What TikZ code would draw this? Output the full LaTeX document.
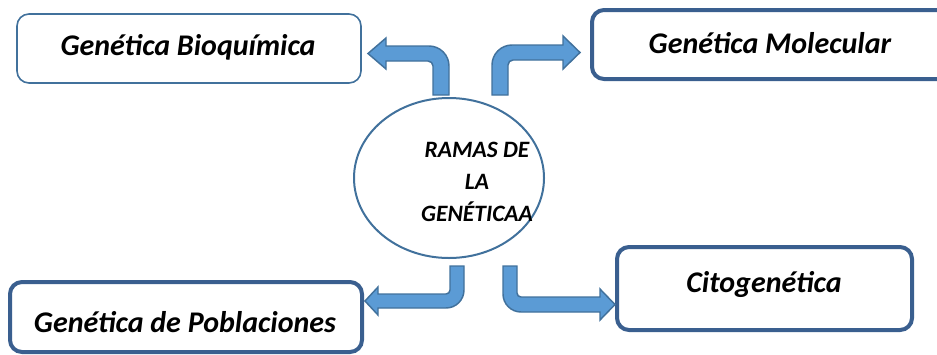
\documentclass[tikz,border=0pt]{standalone}
\usepackage{fontspec}
\setmainfont{Carlito}
\usetikzlibrary{shapes.geometric}
\definecolor{boxline}{HTML}{3A5F8F}
\definecolor{thinline}{HTML}{41719C}
\definecolor{arrowfill}{HTML}{5B9BD5}
\begin{document}
\begin{tikzpicture}[x=0.75pt,y=-0.75pt,
  thickbox/.style={draw=boxline,line width=3pt,rounded corners=9pt,fill=white,inner sep=0pt},
  thinbox/.style={draw=thinline,line width=1.2pt,rounded corners=9pt,fill=white,inner sep=0pt},
  lab/.style={font=\fontsize{22.5pt}{27pt}\selectfont\bfseries\itshape,inner sep=0pt,anchor=base},
  ctext/.style={font=\fontsize{17.6pt}{24pt}\selectfont\bfseries\itshape,inner sep=0pt,align=center},
  barrow/.style={fill=arrowfill,draw=thinline,line width=1.1pt,line join=miter}]
\useasboundingbox (0,0) rectangle (937,354);
\clip (0,0) rectangle (937,354);
% boxes
\node[thinbox,minimum width=258pt,minimum height=51.75pt] (b1) at (189,48.5) {};
\node[thickbox,minimum width=285pt,minimum height=51.75pt] (b2) at (782,44.5) {};
\node[thickbox,minimum width=264pt,minimum height=52.5pt] (b3) at (186,317) {};
\node[thickbox,minimum width=221.25pt,minimum height=62.25pt] (b4) at (764.5,288.5) {};
\node[lab] (t1) at (188,55) {Genética Bioquímica};
\node[lab] (t2) at (770,53) {Genética Molecular};
\node[lab] (t3) at (185,332) {Genética de Poblaciones};
\node[lab] (t4) at (764,292) {Citogenética};
% centre
\node[draw=thinline,line width=1.5pt,ellipse,minimum width=142.5pt,minimum height=120pt,inner sep=0pt] (c) at (449,178) {};
\node[ctext] (ct) at (477,182) {RAMAS DE\\LA\\GENÉTICAA};
% arrows
\draw[barrow] (433,95) -- (433,66) arc[start angle=0,end angle=-90,radius=5]
  -- (386,61) -- (386,69) -- (368,53.5) -- (386,38) -- (386,46) -- (429,46)
  arc[start angle=-90,end angle=0,radius=20] -- (449,95) -- cycle;
\draw[barrow] (508,95) -- (508,65) arc[start angle=180,end angle=270,radius=5]
  -- (563,60) -- (563,69) -- (580,52.5) -- (563,36) -- (563,45) -- (512,45)
  arc[start angle=270,end angle=180,radius=20] -- (492,95) -- cycle;
\draw[barrow] (450,266) -- (450,290) arc[start angle=0,end angle=90,radius=4]
  -- (378,294) -- (378,287) -- (365,301) -- (378,315) -- (378,308) -- (446,308)
  arc[start angle=90,end angle=0,radius=18] -- (464,266) -- cycle;
\draw[barrow] (517,266) -- (517,293) arc[start angle=180,end angle=90,radius=4]
  -- (600,297) -- (600,289) -- (615,304.5) -- (600,320) -- (600,312) -- (521,312)
  arc[start angle=90,end angle=180,radius=18] -- (503,266) -- cycle;
\end{tikzpicture}
\end{document}
